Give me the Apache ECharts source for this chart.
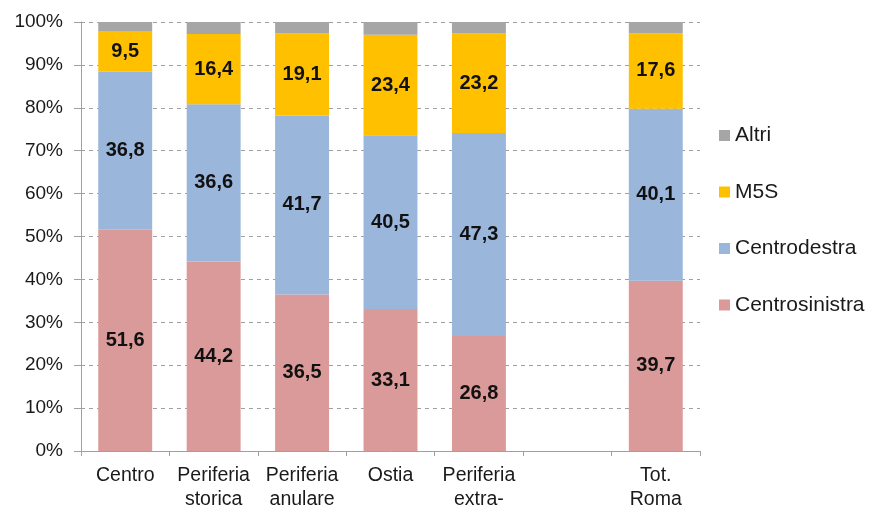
<!DOCTYPE html>
<html><head><meta charset="utf-8">
<script src="https://cdn.jsdelivr.net/npm/echarts@6/dist/echarts.min.js"></script>
<style>html,body{margin:0;padding:0;background:#fff}#c{width:877px;height:512px}</style>
</head><body><div id="c"></div>
<script>
var categories = ['Centro', 'Periferia\nstorica', 'Periferia\nanulare', 'Ostia', 'Periferia\nextra-', '', 'Tot.\nRoma'];
var centrosinistra = [51.6, 44.2, 36.5, 33.1, 26.8, null, 39.7];
var centrodestra = [36.8, 36.6, 41.7, 40.5, 47.3, null, 40.1];
var m5s = [9.5, 16.4, 19.1, 23.4, 23.2, null, 17.6];
var altri = [2.1, 2.8, 2.7, 3.0, 2.7, null, 2.6];
var yTicks = [0, 10, 20, 30, 40, 50, 60, 70, 80, 90, 100];

var font = 'Liberation Sans, Arial, sans-serif';
function lbl(show) {
  return {show: show, position: 'inside', color: '#111', fontWeight: 'bold', fontSize: 20, fontFamily: font,
    formatter: function (p) { return String(p.value).replace('.', ','); }};
}
function ser(name, data, color, show) {
  return {name: name, type: 'bar', stack: 's', data: data, barCategoryGap: '39%',
    itemStyle: {color: color}, label: lbl(show)};
}
var chart = echarts.init(document.getElementById('c'));
chart.setOption({
  animation: false,
  textStyle: {fontFamily: font},
  grid: {left: 81, right: 177, top: 22, bottom: 60},
  legend: {
    orient: 'vertical', left: 714, top: 120, itemGap: 35.5, itemWidth: 11, itemHeight: 11,
    icon: 'rect', data: ['Altri', 'M5S', 'Centrodestra', 'Centrosinistra'],
    textStyle: {fontSize: 21, color: '#1a1a1a', fontFamily: font}
  },
  xAxis: {
    type: 'category', data: categories,
    axisLine: {lineStyle: {color: '#A0A0A0', width: 1}},
    axisTick: {show: true, length: 5, lineStyle: {color: '#A0A0A0'}},
    axisLabel: {interval: 0, fontSize: 19.5, color: '#1a1a1a', lineHeight: 24, margin: 13, fontFamily: font}
  },
  yAxis: {
    type: 'value', min: 0, max: 100, interval: 10,
    axisLine: {show: true, lineStyle: {color: '#A0A0A0'}},
    axisTick: {show: true, length: 7, inside: false, lineStyle: {color: '#A0A0A0'}},
    splitLine: {lineStyle: {color: '#A0A0A0', type: [4, 4]}},
    axisLabel: {fontSize: 19, color: '#1a1a1a', margin: 18, fontFamily: font,
      formatter: function (v) { return yTicks.indexOf(v) >= 0 ? v + '%' : ''; }}
  },
  series: [
    ser('Centrosinistra', centrosinistra, '#DA9A99', true),
    ser('Centrodestra', centrodestra, '#9AB6DA', true),
    ser('M5S', m5s, '#FFC000', true),
    ser('Altri', altri, '#A6A6A6', false)
  ]
});
</script></body></html>
